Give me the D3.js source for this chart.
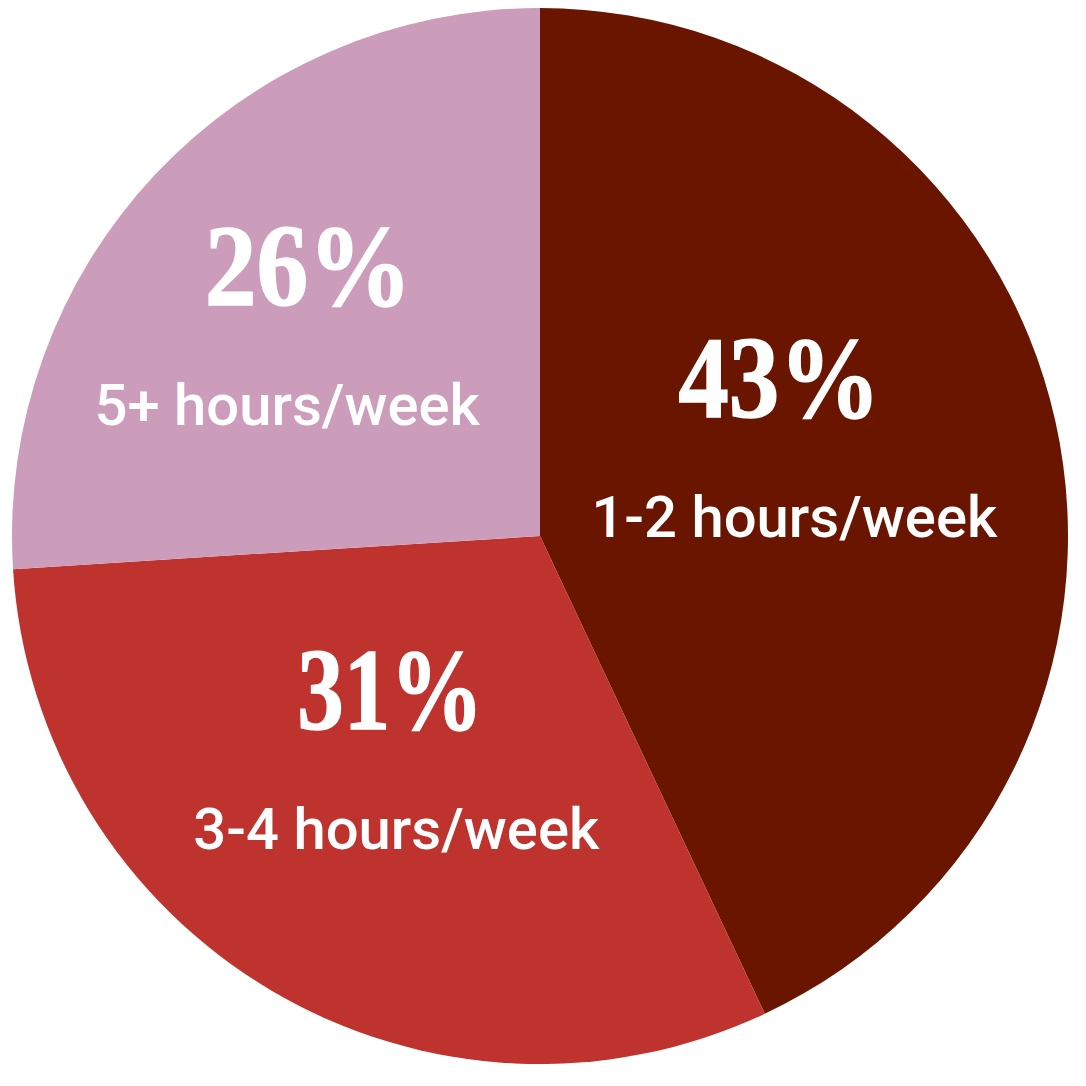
<!DOCTYPE html>
<html>
<head>
<meta charset="utf-8">
<script src="https://cdn.jsdelivr.net/npm/d3@7"></script>
<style>
  html, body { margin: 0; padding: 0; background: #ffffff; }
  svg { display: block; }
</style>
</head>
<body>
<svg id="chart" width="1086" height="1086"></svg>
<script>
// ---- data ----
const categories = ["1-2 hours/week", "3-4 hours/week", "5+ hours/week"];
const values = [43, 31, 26];
const percentLabels = ["43%", "31%", "26%"];
const colors = ["#6a1500", "#be332d", "#cc9dbb"];

// ---- layout ----
const cx = 540, cy = 536, R = 528;
const labelRadius = [261, 291, 305];
const labelAngleOffsetDeg = [-0.4, -1.0, -9.2];
const pctDx = [-15, -6, 21];
const pctWidth = [202, 186, 207];
const pctFontSize = 116;
const catFontSize = 58;
const pctAbove = 60;
const catBelow = 60;

const svg = d3.select("#chart");
const g = svg.append("g").attr("transform", `translate(${cx},${cy})`);

const pie = d3.pie().sort(null).value(d => d.v);
const arcs = pie(values.map((v, i) => ({ v, i })));
const arc = d3.arc().innerRadius(0).outerRadius(R);

g.selectAll("path.slice")
  .data(arcs)
  .join("path")
  .attr("class", "slice")
  .attr("d", arc)
  .attr("fill", d => colors[d.data.i]);

const anchor = d => {
  const a = (d.startAngle + d.endAngle) / 2 + labelAngleOffsetDeg[d.data.i] * Math.PI / 180;
  const r = labelRadius[d.data.i];
  return [r * Math.sin(a), -r * Math.cos(a)];
};

const lg = g.selectAll("g.lab").data(arcs).join("g").attr("class", "lab")
  .attr("transform", d => `translate(${anchor(d)})`);

lg.append("text")
  .attr("text-anchor", "middle")
  .attr("x", d => pctDx[d.data.i])
  .attr("y", -pctAbove)
  .attr("fill", "#ffffff")
  .attr("stroke", "#ffffff")
  .attr("stroke-width", 1.5)
  .attr("textLength", d => pctWidth[d.data.i])
  .attr("lengthAdjust", "spacingAndGlyphs")
  .style("font-family", "'Liberation Serif', 'DejaVu Serif', serif")
  .style("font-weight", "bold")
  .style("font-size", pctFontSize + "px")
  .text(d => percentLabels[d.data.i]);

lg.append("text")
  .attr("text-anchor", "middle")
  .attr("y", catBelow)
  .attr("fill", "#ffffff")
  .style("font-family", "Roboto, 'Noto Sans', sans-serif")
  .style("font-weight", "500")
  .style("font-size", catFontSize + "px")
  .text(d => categories[d.data.i]);
</script>
</body>
</html>
